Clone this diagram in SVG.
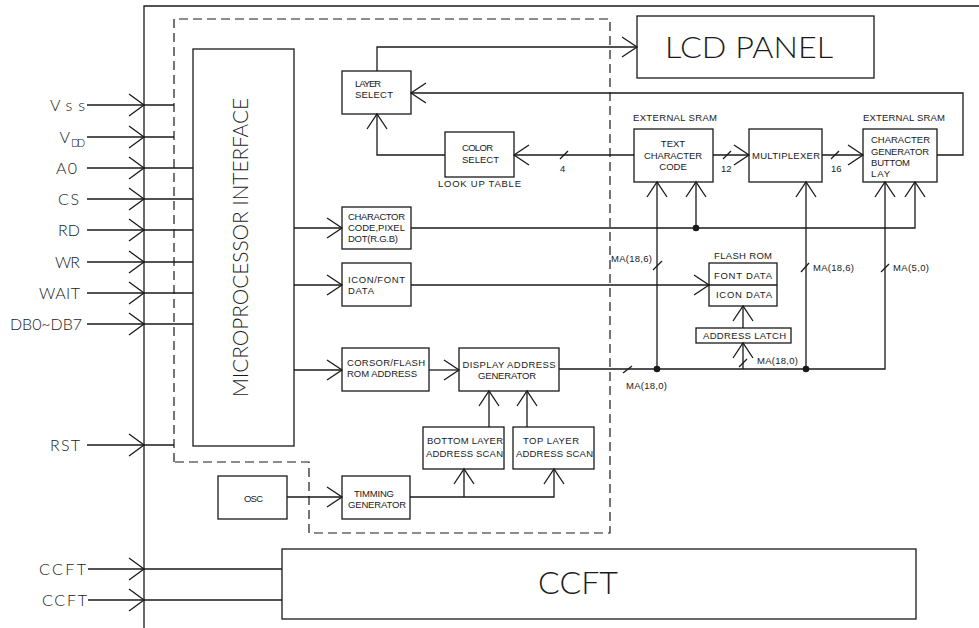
<svg xmlns="http://www.w3.org/2000/svg" width="979" height="628" viewBox="0 0 979 628">
<style>
.ln{fill:none;stroke:#1a1a1a;stroke-width:1.3}
.bx{fill:#fff;stroke:#1a1a1a;stroke-width:1.3}
.dash{fill:none;stroke:#1a1a1a;stroke-width:1.2;stroke-dasharray:9 5}
.t{font-family:"Liberation Sans",Arial,sans-serif;font-size:9.5px;fill:#1a1a1a}
.m{text-anchor:middle}
.pin{font-family:Lato,Roboto,"Liberation Sans",sans-serif;font-weight:300;font-size:16px;fill:#1a1a1a;text-anchor:end}
.big{font-family:Lato,Roboto,"Liberation Sans",sans-serif;fill:#1a1a1a;text-anchor:middle;font-weight:300}
.dot{fill:#1a1a1a}
</style>
<defs>
<marker id="ah" markerUnits="userSpaceOnUse" viewBox="-16 -11 18 22" markerWidth="18" markerHeight="22" refX="0" refY="0" orient="auto" overflow="visible">
<path d="M-15,-10 L0,0 L-15,10" fill="none" stroke="#1a1a1a" stroke-width="1.3"/>
</marker>
<marker id="ai" markerUnits="userSpaceOnUse" viewBox="-16 -12 18 24" markerWidth="18" markerHeight="24" refX="0" refY="0" orient="auto" overflow="visible">
<path d="M-15,-11 L0,0 L-15,11" fill="none" stroke="#1a1a1a" stroke-width="1.3"/>
</marker>
</defs>
<rect width="979" height="628" fill="#fff"/>

<g id="frame">
<path class="ln" d="M979,6 H144 V628"/>
<path class="dash" d="M174,462 V19 H610 V533 H309 V462 Z"/>
</g>

<g id="pins">
<text class="pin" x="85" y="111" textLength="35">Vss</text>
<text class="pin" x="70" y="143" textLength="11">V</text>
<text class="pin" x="71" y="147" style="font-size:11px;text-anchor:start" textLength="14">DD</text>
<text class="pin" x="77" y="174" textLength="21">A0</text>
<text class="pin" x="79" y="205" textLength="21">CS</text>
<text class="pin" x="80" y="236" textLength="22">RD</text>
<text class="pin" x="80" y="268" textLength="25">WR</text>
<text class="pin" x="80" y="299" textLength="41">WAIT</text>
<text class="pin" x="82" y="330" textLength="72">DB0~DB7</text>
<text class="pin" x="80" y="451" textLength="30">RST</text>
<text class="pin" x="86" y="575" textLength="47">CCFT</text>
<text class="pin" x="87" y="606" textLength="45">CCFT</text>
</g>

<g id="mpu">
<rect class="bx" x="193" y="49" width="101" height="397"/>
<text class="big" transform="translate(248,247.5) rotate(-90)" style="font-size:21px" textLength="299" lengthAdjust="spacingAndGlyphs">MICROPROCESSOR INTERFACE</text>
</g>

<g id="lcd">
<rect class="bx" x="637" y="16" width="237" height="62"/>
<text class="big" x="749" y="58" style="font-size:29px" textLength="168" lengthAdjust="spacingAndGlyphs">LCD PANEL</text>
</g>

<g id="layer-select">
<rect class="bx" x="342" y="71" width="69" height="43"/>
<text class="t" x="355" y="87" textLength="26">LAYER</text>
<text class="t" x="355" y="98" textLength="38">SELECT</text>
</g>

<g id="color-select">
<rect class="bx" x="445" y="132" width="69" height="45"/>
<text class="t" x="462" y="151" textLength="31">COLOR</text>
<text class="t" x="462" y="163" textLength="37">SELECT</text>
<text class="t" x="438" y="187" textLength="83">LOOK UP TABLE</text>
</g>

<g id="text-char-code">
<text class="t" x="633" y="121" textLength="84">EXTERNAL SRAM</text>
<rect class="bx" x="634" y="129" width="79" height="53"/>
<text class="t m" x="673" y="147">TEXT</text>
<text class="t m" x="673" y="159" textLength="58">CHARACTER</text>
<text class="t m" x="673" y="170">CODE</text>
</g>

<g id="multiplexer">
<rect class="bx" x="749" y="129" width="73" height="53"/>
<text class="t" x="752" y="159" textLength="68">MULTIPLEXER</text>
</g>

<g id="char-gen">
<text class="t" x="863" y="121" textLength="82">EXTERNAL SRAM</text>
<rect class="bx" x="863" y="129" width="74" height="53"/>
<text class="t" x="871" y="143" textLength="59">CHARACTER</text>
<text class="t" x="871" y="155" textLength="58">GENERATOR</text>
<text class="t" x="871" y="166" textLength="39">BUTTOM</text>
<text class="t" x="871" y="177" textLength="19">LAY</text>
</g>

<g id="charactor-code">
<rect class="bx" x="342" y="207" width="69" height="42"/>
<text class="t" x="348" y="220" textLength="57">CHARACTOR</text>
<text class="t" x="348" y="231" textLength="57">CODE,PIXEL</text>
<text class="t" x="348" y="242" textLength="50">DOT(R.G.B)</text>
</g>

<g id="icon-font">
<rect class="bx" x="342" y="263" width="69" height="43"/>
<text class="t" x="348" y="283" textLength="57">ICON/FONT</text>
<text class="t" x="348" y="294" textLength="26">DATA</text>
</g>

<g id="flash-rom">
<text class="t" x="714" y="259" textLength="58">FLASH ROM</text>
<rect class="bx" x="709" y="263" width="68" height="43"/>
<line class="ln" x1="709" y1="285" x2="777" y2="285"/>
<text class="t" x="714" y="279" textLength="58">FONT DATA</text>
<text class="t" x="716" y="298" textLength="56">ICON DATA</text>
</g>

<g id="address-latch">
<rect class="bx" x="696" y="328" width="95" height="15"/>
<text class="t" x="703" y="339" textLength="83">ADDRESS LATCH</text>
</g>

<g id="corsor">
<rect class="bx" x="342" y="348" width="87" height="43"/>
<text class="t" x="347" y="366" textLength="78">CORSOR/FLASH</text>
<text class="t" x="347" y="377" textLength="70">ROM ADDRESS</text>
</g>

<g id="display-addr">
<rect class="bx" x="459" y="348" width="100" height="43"/>
<text class="t m" x="509" y="368" textLength="93">DISPLAY ADDRESS</text>
<text class="t m" x="507" y="379" textLength="58">GENERATOR</text>
</g>

<g id="bottom-scan">
<rect class="bx" x="423" y="427" width="81" height="42"/>
<text class="t" x="427" y="444" textLength="76">BOTTOM LAYER</text>
<text class="t" x="426" y="457" textLength="77">ADDRESS SCAN</text>
</g>

<g id="top-scan">
<rect class="bx" x="513" y="427" width="81" height="42"/>
<text class="t" x="523" y="444" textLength="56">TOP LAYER</text>
<text class="t" x="516" y="457" textLength="77">ADDRESS SCAN</text>
</g>

<g id="timming">
<rect class="bx" x="342" y="476" width="68" height="43"/>
<text class="t" x="354" y="497" textLength="40">TIMMING</text>
<text class="t" x="348" y="508" textLength="58">GENERATOR</text>
</g>

<g id="osc">
<rect class="bx" x="218" y="476" width="69" height="43"/>
<text class="t" x="244" y="502" textLength="19">OSC</text>
</g>

<g id="ccft">
<rect class="bx" x="282" y="549" width="634" height="70"/>
<text class="big" x="578" y="594" style="font-size:32px" textLength="80" lengthAdjust="spacingAndGlyphs">CCFT</text>
</g>

<g id="connectors">
<path class="ln" marker-mid="url(#ai)" d="M87,105 L144,105 L174,105"/>
<path class="ln" marker-mid="url(#ai)" d="M87,137 L144,137 L174,137"/>
<path class="ln" marker-mid="url(#ai)" d="M87,168 L144,168 L193,168"/>
<path class="ln" marker-mid="url(#ai)" d="M87,199 L144,199 L193,199"/>
<path class="ln" marker-mid="url(#ai)" d="M87,230 L144,230 L193,230"/>
<path class="ln" marker-mid="url(#ai)" d="M87,262 L144,262 L193,262"/>
<path class="ln" marker-mid="url(#ai)" d="M87,293 L144,293 L193,293"/>
<path class="ln" marker-mid="url(#ai)" d="M87,324 L144,324 L193,324"/>
<path class="ln" marker-mid="url(#ai)" d="M87,445 L144,445 L174,445"/>
<path class="ln" marker-mid="url(#ai)" d="M88,569 L144,569 L282,569"/>
<path class="ln" marker-mid="url(#ai)" d="M88,600 L144,600 L282,600"/>

<path class="ln" marker-end="url(#ah)" d="M377,71 V47 H637"/>
<path class="ln" marker-end="url(#ah)" d="M937,155 H963 V93 H411"/>
<path class="ln" marker-end="url(#ah)" d="M445,155 H377 V114"/>
<path class="ln" marker-end="url(#ah)" d="M634,155 H514"/>
<path class="ln" marker-end="url(#ah)" d="M713,155 H749"/>
<path class="ln" marker-end="url(#ah)" d="M822,155 H863"/>

<path class="ln" marker-end="url(#ah)" d="M294,228 H342"/>
<path class="ln" marker-end="url(#ah)" d="M411,228 H915 V182"/>
<path class="ln" marker-end="url(#ah)" d="M696,228 V182"/>
<circle class="dot" cx="696" cy="228" r="3.3"/>

<path class="ln" marker-end="url(#ah)" d="M294,285 H342"/>
<path class="ln" marker-end="url(#ah)" d="M411,285 H709"/>

<path class="ln" marker-end="url(#ah)" d="M294,370 H342"/>
<path class="ln" marker-end="url(#ah)" d="M429,370 H459"/>

<path class="ln" marker-end="url(#ah)" d="M559,369 H885 V182"/>
<path class="ln" marker-end="url(#ah)" d="M657,369 V182"/>
<path class="ln" marker-end="url(#ah)" d="M806,369 V182"/>
<path class="ln" marker-end="url(#ah)" d="M743,369 V343"/>
<path class="ln" marker-end="url(#ah)" d="M743,328 V306"/>
<circle class="dot" cx="657" cy="369" r="3.3"/>
<circle class="dot" cx="806" cy="369" r="3.3"/>

<path class="ln" marker-end="url(#ah)" d="M489,427 V391"/>
<path class="ln" marker-end="url(#ah)" d="M527,427 V391"/>

<path class="ln" marker-end="url(#ah)" d="M287,497 H342"/>
<path class="ln" marker-end="url(#ah)" d="M410,497 H554 V469"/>
<path class="ln" marker-end="url(#ah)" d="M464,497 V469"/>

<g id="bus-slashes">
<path class="ln" d="M560,159 L568,151"/>
<path class="ln" d="M723,159 L731,151"/>
<path class="ln" d="M831,159 L839,151"/>
<path class="ln" d="M653,270 L662,261"/>
<path class="ln" d="M801,272 L809,263"/>
<path class="ln" d="M881,272 L889,264"/>
<path class="ln" d="M623,373 L632,366"/>
<path class="ln" d="M739,367 L747,359"/>
</g>
</g>

<g id="bus-labels">
<text class="t" x="560" y="172">4</text>
<text class="t" x="721" y="172">12</text>
<text class="t" x="831" y="172">16</text>
<text class="t" x="611" y="262" textLength="41">MA(18,6)</text>
<text class="t" x="813" y="271" textLength="41">MA(18,6)</text>
<text class="t" x="893" y="271" textLength="36">MA(5,0)</text>
<text class="t" x="757" y="364" textLength="41">MA(18,0)</text>
<text class="t" x="626" y="389" textLength="41">MA(18,0)</text>
</g>
</svg>
